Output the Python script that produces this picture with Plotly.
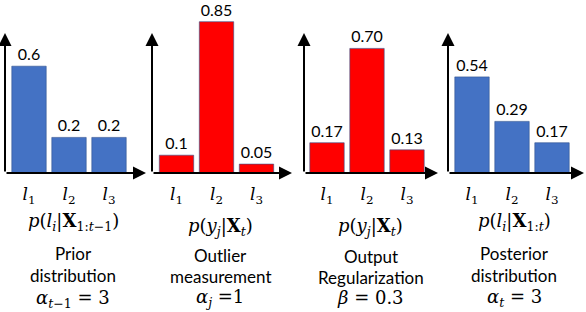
import plotly.graph_objects as go

# ---- data ----
categories = ["l1", "l2", "l3"]
tick_labels = ["<i>l</i><sub>1</sub>", "<i>l</i><sub>2</sub>", "<i>l</i><sub>3</sub>"]
prior_vals = [0.6, 0.2, 0.2]
prior_text = ["0.6", "0.2", "0.2"]
outlier_vals = [0.1, 0.85, 0.05]
outlier_text = ["0.1", "0.85", "0.05"]
regular_vals = [0.17, 0.70, 0.13]
regular_text = ["0.17", "0.70", "0.13"]
post_vals = [0.54, 0.29, 0.17]
post_text = ["0.54", "0.29", "0.17"]

formulas = [
    "<i>p</i>(<i>l</i><sub><i>i</i></sub>|<b>X</b><sub>1:<i>t</i>−1</sub>)",
    "<i>p</i>(<i>y</i><sub><i>j</i></sub>|<b>X</b><sub><i>t</i></sub>)",
    "<i>p</i>(<i>y</i><sub><i>j</i></sub>|<b>X</b><sub><i>t</i></sub>)",
    "<i>p</i>(<i>l</i><sub><i>i</i></sub>|<b>X</b><sub>1:<i>t</i></sub>)",
]
desc_line1 = ["Prior", "Outlier", "Output", "Posterior"]
desc_line2 = ["distribution", "measurement", "Regularization", "distribution"]
params = [
    "<i>α</i><sub><i>t</i>−1</sub> = 3",
    "<i>α</i><sub><i>j</i></sub> =1",
    "<i>β</i> = 0.3",
    "<i>α</i><sub><i>t</i></sub> = 3",
]

BLUE = "#4472C4"
RED = "#FF0000"
series = [
    (prior_vals, prior_text, BLUE),
    (outlier_vals, outlier_text, RED),
    (regular_vals, regular_text, RED),
    (post_vals, post_text, BLUE),
]

# ---- layout geometry (pixels) ----
W, H = 586, 312
base_px = 173          # x-axis baseline
top_px = 0
px_per_unit = 178.0
px_per_cat = 40.0
panels = [  # (y-axis x, x-arrow tip, first bar centre)
    (5, 146, 29),
    (152, 292, 176.5),
    (304, 438, 327),
    (448, 584, 472),
]
formula_y = [222, 227, 227, 222]
line_y = [(253, 275, 299), (255, 276, 298), (256, 277, 297), (253, 275, 298)]
arrow_top_px = 33

SANS = "Lato, Calibri, Carlito, sans-serif"
SERIF = "DejaVu Serif, Cambria, serif"

fig = go.Figure()
ymax = (base_px - top_px) / px_per_unit
y_dom = [1 - base_px / H, 1 - top_px / H]

annotations = []
for i, ((vals, txt, col), (ax_px, tip_px, c0)) in enumerate(zip(series, panels)):
    n = "" if i == 0 else str(i + 1)
    xa, ya = "x" + n, "y" + n
    xr = [(ax_px - c0) / px_per_cat, (tip_px - c0) / px_per_cat]
    fig.add_trace(go.Bar(
        x=list(range(len(categories))), y=vals, text=txt,
        textposition="outside", cliponaxis=False, constraintext="none",
        textfont=dict(family=SANS, size=16, color="black"),
        marker=dict(color=col, line=dict(color="#2F528F", width=0.6)),
        width=0.86, xaxis=xa, yaxis=ya, showlegend=False,
        hoverinfo="skip",
    ))
    fig.layout["xaxis" + n] = dict(
        domain=[ax_px / W, tip_px / W], range=xr, anchor=ya,
        tickvals=list(range(len(categories))), ticktext=tick_labels,
        tickfont=dict(family=SERIF, size=17, color="black"),
        ticklabelstandoff=9,
        showgrid=False, zeroline=False, showline=False, ticks="",
        fixedrange=True, automargin=False,
    )
    fig.layout["yaxis" + n] = dict(
        domain=y_dom, range=[0, ymax], anchor=xa, visible=False,
        fixedrange=True,
    )
    # axis arrows
    annotations.append(dict(
        xref=xa, yref=ya, axref=xa, ayref=ya,
        x=xr[1], y=0, ax=xr[0], ay=0, text="", showarrow=True,
        arrowhead=2, arrowsize=1.3, arrowwidth=2, arrowcolor="black",
        standoff=0, startstandoff=0,
    ))
    annotations.append(dict(
        xref=xa, yref=ya, axref=xa, ayref=ya,
        x=xr[0], y=(base_px - arrow_top_px) / px_per_unit, ax=xr[0], ay=0,
        text="", showarrow=True,
        arrowhead=2, arrowsize=1.3, arrowwidth=2, arrowcolor="black",
        standoff=0, startstandoff=0,
    ))
    cx = 1.1 if i < 3 else 1.05
    annotations.append(dict(
        xref=xa, yref="paper", x=cx, y=1 - formula_y[i] / H,
        text=formulas[i], showarrow=False, xanchor="center", yanchor="middle",
        font=dict(family=SERIF, size=18, color="black"),
    ))
    for j, t in enumerate([desc_line1[i], desc_line2[i]]):
        annotations.append(dict(
            xref=xa, yref="paper", x=cx, y=1 - line_y[i][j] / H,
            text=t, showarrow=False, xanchor="center", yanchor="middle",
            font=dict(family=SANS, size=17, color="black"),
        ))
    annotations.append(dict(
        xref=xa, yref="paper", x=cx, y=1 - line_y[i][2] / H,
        text=params[i], showarrow=False, xanchor="center", yanchor="middle",
        font=dict(family=SERIF, size=18, color="black"),
    ))

fig.update_layout(
    width=W, height=H, margin=dict(l=0, r=0, t=0, b=0),
    paper_bgcolor="white", plot_bgcolor="white",
    annotations=annotations, bargap=0.1,
)

fig.write_html(
    "out.html",
    config={"displayModeBar": False},
    post_script="document.body.style.margin='0';document.body.style.overflow='hidden';",
)
